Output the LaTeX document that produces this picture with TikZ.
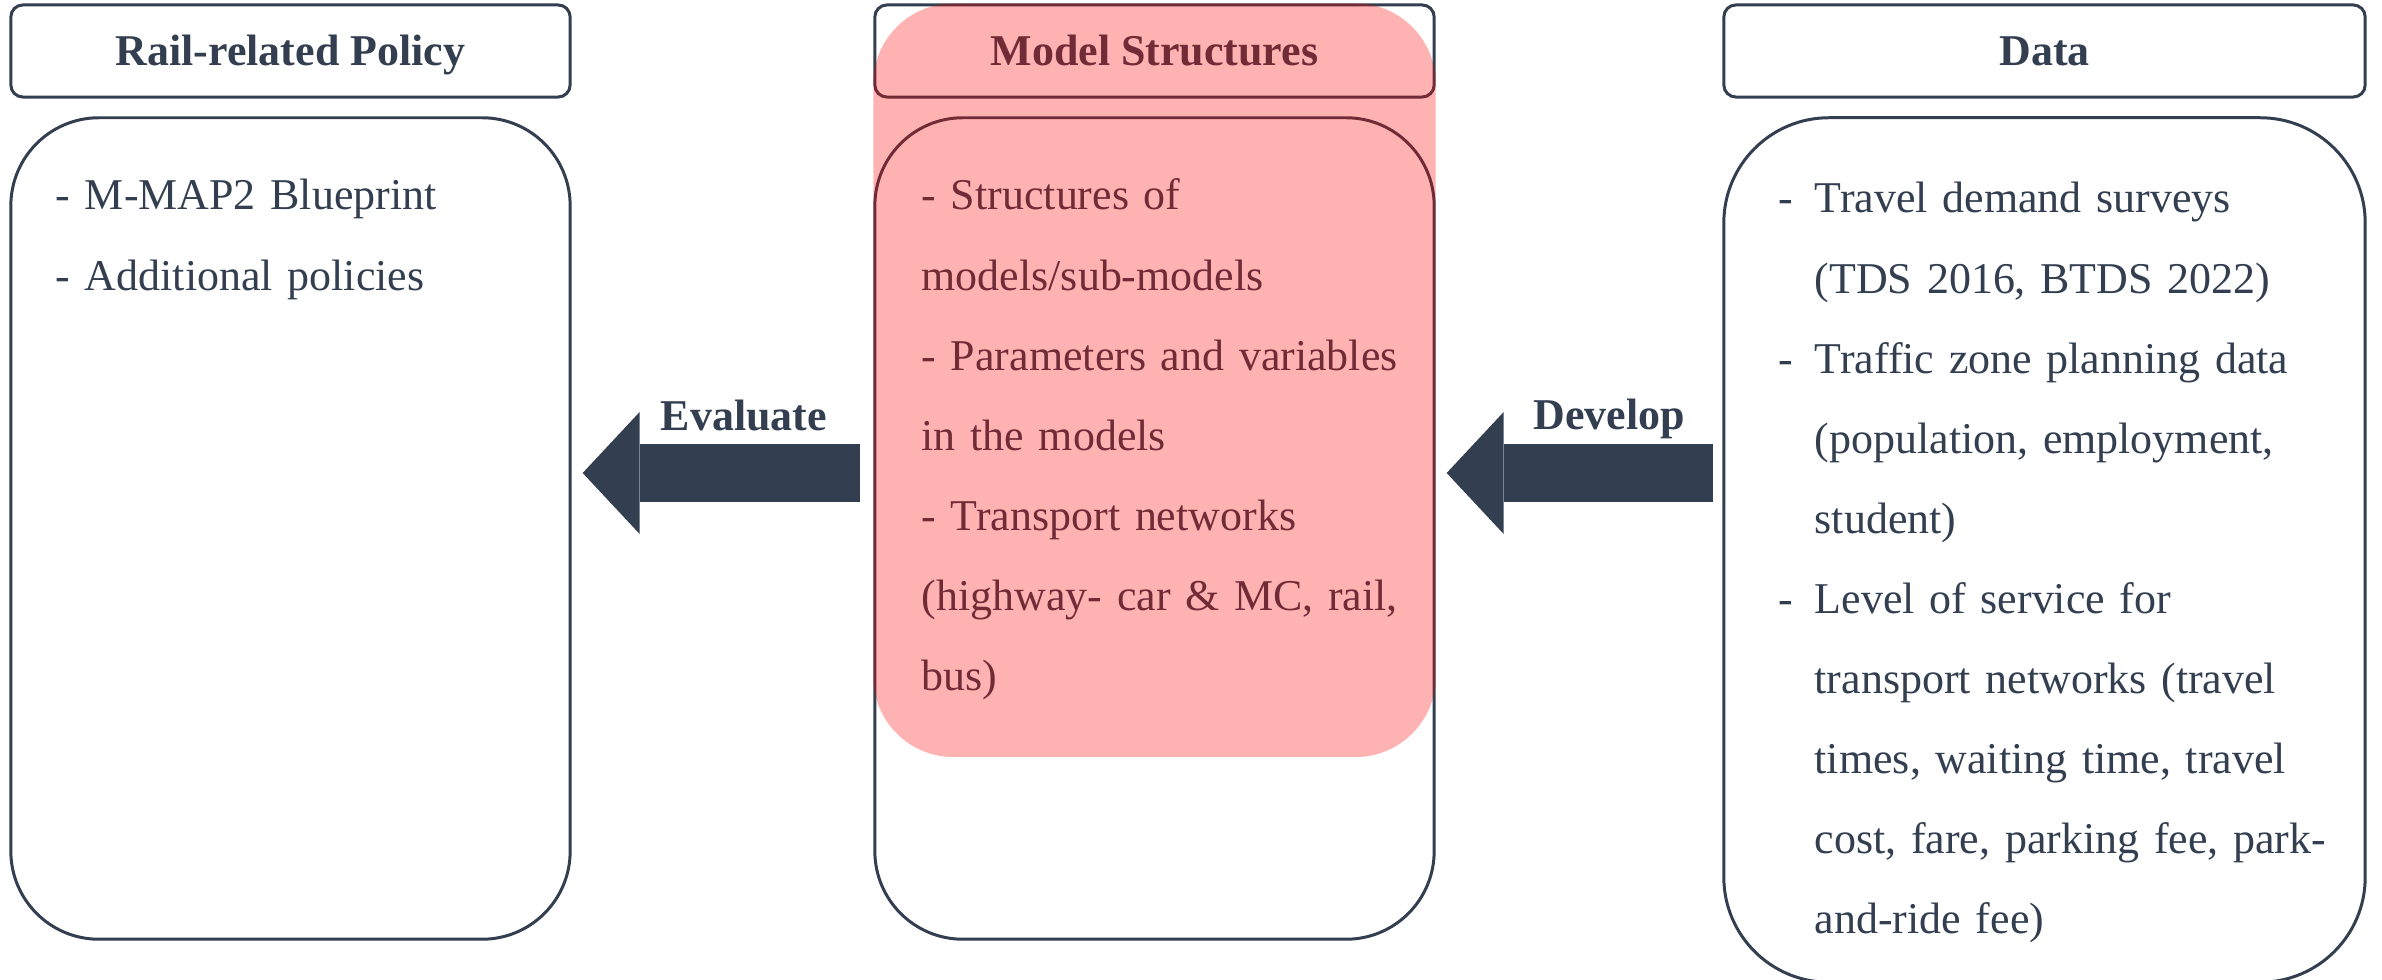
\documentclass[tikz,border=0pt]{standalone}
\usepackage{fontspec}
\setmainfont{Liberation Serif}
\usepackage{tikz}
\usetikzlibrary{calc,arrows.meta}

\definecolor{slate}{HTML}{333F50}

\newcommand{\itemdash}{\makebox[0.36cm][l]{-}}
\newcommand{\itemgap}{\hspace*{0.36cm}}

\tikzset{
  headbox/.style={draw=slate, line width=0.85pt, rounded corners=0.12cm,
    minimum height=0.92cm, inner sep=0pt, text=slate,
    font=\bfseries\fontsize{12.5pt}{15pt}\selectfont,
    text height=0.29cm, text depth=0pt},
  bodybox/.style={draw=slate, line width=0.85pt, rounded corners=0.88cm, inner sep=0pt},
  itemtext/.style={anchor=base west, inner sep=0pt, text=slate, align=left,
    font=\fontsize{12.5pt}{0.8cm}\selectfont},
  bigarrow/.style={slate, line width=0.58cm,
    -{Triangle[length=0.57cm, width=1.22cm, line width=0pt]}},
  arrowlabel/.style={text=slate, inner sep=0pt, anchor=base,
    font=\bfseries\fontsize{12.5pt}{15pt}\selectfont}
}

\begin{document}
\begin{tikzpicture}[x=0.01cm, y=-0.01cm]
    \useasboundingbox (0,0) rectangle (2382,980);

    % Headers
    \node[headbox, minimum width=5.59cm] (policyhead) at (290.5,51) {Rail-related Policy};
    \node[headbox, minimum width=5.59cm] (modelhead) at (1154.5,51) {Model Structures};
    \node[headbox, minimum width=6.41cm] (datahead) at (2044.5,51) {Data};

    % Bodies
    \node[bodybox, minimum width=5.59cm, minimum height=8.21cm] (policybody) at (290.5,528.5) {};
    \node[bodybox, minimum width=5.59cm, minimum height=8.21cm] (modelbody) at (1154.5,528.5) {};
    \node[bodybox, rounded corners=1.05cm, minimum width=6.41cm, minimum height=8.64cm] (databody) at (2044.5,550) {};

    % Items
    \node[itemtext, text width=5cm] (policytext) at (55,210)
      {- M-MAP2 Blueprint\\- Additional policies};
    \node[itemtext, text width=5.2cm] (modeltext) at (921,210)
      {- Structures of\\
       models/sub-models\\
       - Parameters and variables\\
       in the models\\
       - Transport networks\\
       (highway- car \& MC, rail,\\
       bus)};
    \node[itemtext, text width=6cm] (datatext) at (1778,213)
      {\itemdash Travel demand surveys\\
       \itemgap (TDS 2016, BTDS 2022)\\
       \itemdash Traffic zone planning data\\
       \itemgap (population, employment,\\
       \itemgap student)\\
       \itemdash Level of service for\\
       \itemgap transport networks (travel\\
       \itemgap times, waiting time, travel\\
       \itemgap cost, fare, parking fee, park-\\
       \itemgap and-ride fee)};

    % Arrows between the columns
    \coordinate (arrowlevel) at (0,473);
    \draw[bigarrow, shorten <=0.13cm, shorten >=0.11cm] (modelbody.west |- arrowlevel) -- (policybody.east |- arrowlevel);
    \draw[bigarrow, shorten <=0.09cm, shorten >=0.11cm] (databody.west |- arrowlevel) -- (modelbody.east |- arrowlevel);
    \node[arrowlabel] (evaluate) at (744,431) {Evaluate};
    \node[arrowlabel] (develop) at (1609,430) {Develop};

    % Highlight on the model column
    \coordinate (veilbottom) at (0,757);
    \fill[red, fill opacity=0.3, rounded corners=0.8cm] (modelhead.north west) rectangle (modelhead.east |- veilbottom);
\end{tikzpicture}
\end{document}
